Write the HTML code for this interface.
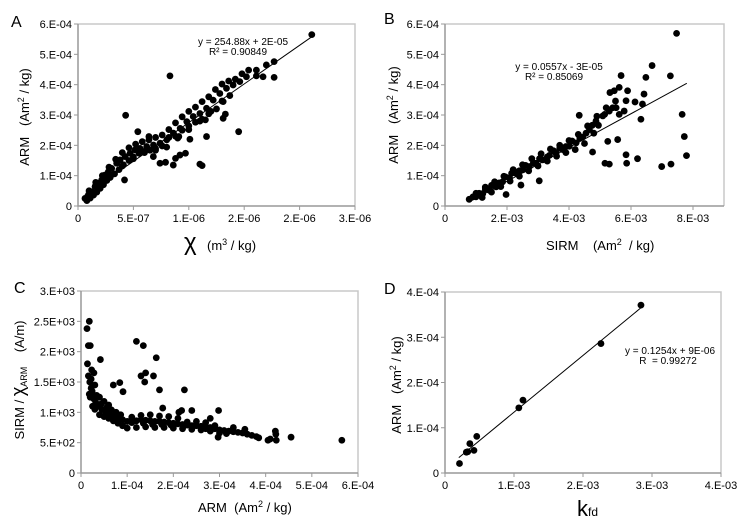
<!DOCTYPE html>
<html><head><meta charset="utf-8">
<style>
html,body{margin:0;padding:0;background:#fff;}
svg{display:block;font-family:"Liberation Sans",Arial,sans-serif;}
svg text{white-space:pre;}
</style></head>
<body>
<svg id="fig" width="746" height="527" viewBox="0 0 746 527" xmlns="http://www.w3.org/2000/svg"></svg>
<script>
// ---- Panel A: chi (1e-7 m3/kg) vs ARM (1e-5 Am2/kg)
const aX = [0.63,0.93,1.23,1.54,1.84,2.14,2.44,2.74,3.04,3.49,3.8,4.25,4.7,5.15,5.6,6.2,6.81,7.41,8.01,8.61,9.22,9.82,10.4,11.0,11.6,12.2,12.8,13.4,14.0,14.6,15.2,16.1,17.0,17.7,21.1,
 0.8,1.1,1.4,1.7,2.0,2.3,2.6,2.9,3.3,3.7,4.1,4.6,5.0,5.5,6.0,6.5,7.0,7.6,8.2,8.8,9.4,10.0,10.6,11.2,11.8,12.5,13.1,13.7,
 1.0,1.6,2.2,2.8,3.4,4.0,4.6,5.2,5.8,6.4,7.0,7.6,8.2,8.8,9.4,10.0,10.6,11.2,11.8,12.4,13.0,13.6,14.2,14.8,15.4,
 2.0,3.0,4.0,5.0,6.0,7.0,8.0,9.0,10.0,11.0,12.0,13.0,
 8.3,4.3,4.2,14.5,11.0,11.2,7.4,7.9,8.6,8.8,9.2,9.7,10.1,11.6,13.1,13.3,11.5,9.1,6.8,5.4,6.4,17.7,16.7,16.1];
const aY = [2.5,3.6,4.7,6.4,7.5,8.6,10.2,11.3,12.4,14.1,15.2,16.3,17.4,18.5,19.0,19.6,20.1,20.7,21.8,24.0,25.6,27.8,29.5,30.5,32.2,34.9,37.1,38.8,39.9,41.0,42.6,44.8,46.5,47.6,56.5,
 1.8,2.6,3.6,4.6,5.8,7.0,8.4,9.4,10.6,12.0,13.6,15.0,16.2,17.4,18.0,18.4,19.0,19.8,22.6,23.0,25.0,26.4,27.6,28.6,30.4,32.0,34.4,36.4,
 5.0,7.8,10.0,12.8,15.4,17.6,19.2,20.4,21.2,21.8,22.6,23.4,25.2,27.4,29.4,31.2,32.6,34.4,36.0,38.4,40.2,41.2,41.8,43.6,44.8,
 6.0,10.2,13.2,15.6,17.6,18.4,19.4,22.4,25.2,28.0,31.2,34.6,
 42.9,29.9,8.6,24.5,13.8,13.3,14.1,14.4,13.5,15.7,16.8,17.4,22.0,22.9,28.9,30.3,28.4,22.9,16.3,24.5,22.9,42.4,42.6,42.9];
// ---- Panel B: SIRM (1e-4) vs ARM (1e-5)
const bX = [7.8,10.0,12.2,14.3,16.5,18.6,20.8,22.9,25.1,27.2,29.4,31.5,33.7,35.8,38.0,40.1,42.3,44.4,46.6,48.7,50.9,53.0,55.2,54.6,56.2,56.8,
 9,11,13,15,17.5,19.5,21.5,24,26,28.5,30.5,33,35,37,39,41,43.5,45.5,47.5,49.5,51.5,
 10,13,16,19,22,25,28,31,34,37,40,43,46,49,52,55,
 12,15,18,21,24,27,30,33,36,39,42,45,48,
 74.7,66.8,72.7,64.8,64.2,63.7,58.4,61.3,63.2,76.5,77.2,77.9,72.9,69.9,62.1,58.4,58.6,52.5,53.0,51.6,55.7,47.6,30.4,24.5,19.7,43.3,53.2,54.1,56.2,57.8,58.9];
const bY = [2.2,3.0,4.1,5.2,6.3,8.0,9.3,10.8,11.9,13.0,14.1,15.2,16.7,17.4,18.6,19.7,20.8,22.7,25.2,28.0,29.7,31.3,32.4,38.0,39.1,43.0,
 3.0,4.2,5.6,6.8,7.6,9.6,10.8,11.6,13.4,14.2,15.6,16.2,18.2,19.0,19.6,21.4,22.4,24.0,26.6,26.6,30.2,
 4.2,6.2,8.0,9.8,12.0,13.6,15.6,17.2,18.8,20.0,21.6,23.6,26.4,29.6,32.4,34.6,
 2.8,4.6,6.4,8.2,9.8,11.6,13.2,14.8,16.4,17.6,18.6,20.6,24.0,
 56.9,46.3,42.9,42.4,36.9,33.6,34.7,34.3,28.6,30.2,22.9,16.6,13.8,13.0,15.6,16.9,14.1,21.3,13.8,14.1,21.9,17.8,8.3,6.9,3.8,29.9,37.4,32.4,30.2,31.3,38.0];
// ---- Panel C: ARM (1e-5) vs SIRM/chiARM (1e2 A/m)
const cX = [1.4,1.6,1.9,2.2,2.5,2.8,3.2,3.8,4.5,5.2,6,7,8,9,10,11,12,13,14,15,16,17,18,19,20,21,22,23,24,25,26,27,28,29,30,31,32,33,34,35,36,37,38,
 2,2.5,3,4,5,6,7,8,9,10,12,14,16,18,20,22,24,26,28,30,13,15,17,19,21,25,27,3,4,5,6,1.8,2.2,2.8,
 2.4,3.4,4.4,5.6,6.6,7.6,8.6,11,13.5,15.5,17.5,19.5,23,27,29,
 1.3,1.8,1.6,2,2.3,4.2,7,8.4,9.1,12,13.5,13,14,13.8,15.7,16.3,17,17.7,21.2,21.8,22.4,24,28,29.8,29.7,31.5,33,35.5,38.5,40.5,41,42.1,42.2,42.3,45.5,56.5];
const cY = [18,16,15,14,13,12.2,11.6,11,10.5,10.2,9.8,9.4,9.1,8.8,8.5,8.3,8.6,8.8,8.7,8.6,8.5,8.5,8.4,8.3,8.2,8.1,8.0,7.9,7.8,7.8,7.7,7.6,7.5,7.3,7.1,7.0,6.9,6.8,6.7,6.6,6.4,6.2,6.0,
 12.5,11,10.5,9.6,9.3,9,8.6,8.2,7.8,7.4,7.5,7.6,7.5,7.5,7.4,7.3,7.2,7.1,6.9,6.6,9.5,9.6,9.4,9.3,9.0,8.5,8.3,14.5,12.5,11.8,11.2,13,15.5,16.5,
 13.5,12.8,11.4,10.8,10.4,10.0,9.6,9.2,8.2,8.0,8.0,7.9,8.4,7.3,7.8,
 23.8,25,21,21,17,18.7,14.5,14.9,13.4,21.7,21,16,16.5,15,16,19,13.7,10.7,10,10.3,13.7,10.3,9,10.3,5.9,6.5,7.5,7.2,5.8,5.4,5.6,6.9,6.4,5.4,5.9,5.4];
// ---- Panel D: kfd (1e-3) vs ARM (1e-4)
const dX = [0.21,0.31,0.33,0.36,0.42,0.46,1.07,1.13,2.26,2.84];
const dY = [0.21,0.46,0.47,0.65,0.50,0.81,1.44,1.61,2.86,3.71];
// axis tick labels
const aXTicks = ["0","5.E-07","1.E-06","2.E-06","2.E-06","3.E-06"];
const aYTicks = ["0","1.E-04","2.E-04","3.E-04","4.E-04","5.E-04","6.E-04"];
const bXTicks = ["0","2.E-03","4.E-03","6.E-03","8.E-03"];
const bYTicks = ["0","1.E-04","2.E-04","3.E-04","4.E-04","5.E-04","6.E-04"];
const cXTicks = ["0","1.E-04","2.E-04","3.E-04","4.E-04","5.E-04","6.E-04"];
const cYTicks = ["0","5.E+02","1.E+03","1.5E+03","2.E+03","2.5E+03","3.E+03"];
const dXTicks = ["0","1.E-03","2.E-03","3.E-03","4.E-03"];
const dYTicks = ["0","1.E-04","2.E-04","3.E-04","4.E-04"];
// trend lines [slope, intercept, xStart, xEnd] in panel units
const aFit = [2.5488, 2.0, 0.6, 21.0];
const bFit = [0.557, -3.0, 8, 78];
const dFit = [1.254, 0.09, 0.2, 2.84];

const NS="http://www.w3.org/2000/svg";
const svg=document.getElementById('fig');
function mk(tag,attrs,parent){const e=document.createElementNS(NS,tag);for(const k in attrs)e.setAttribute(k,attrs[k]);(parent||svg).appendChild(e);return e;}
function txt(s,x,y,size,anchor,parent){const t=mk('text',{x:x,y:y,'font-size':size,'text-anchor':anchor||'start',fill:'#000'},parent);t.textContent=s;return t;}

function panel(id,L,R,T,B,xmax,ymax,xticks,xstep,yticks,ystep,xs,ys,fit,rad){
  const g=mk('g',{});
  
  
  const sx=v=>L+(v/xmax)*(R-L), sy=v=>B-(v/ymax)*(B-T);
  const frame=mk('path',{d:`M${L},${T}H${R}V${B}`,fill:'none',stroke:'#c8c8c8','stroke-width':1.5},g);
  
  
  const ax=mk('path',{d:`M${L},${T}V${B}H${R}`,fill:'none',stroke:'#999','stroke-width':1.5},g);
  
  
  xticks.forEach((s,i)=>{const x=sx(i*xstep);mk('line',{x1:x,x2:x,y1:B,y2:B+4,stroke:'#999','stroke-width':1},g);
    const t=txt(s,x,B+16,11,'middle',g);
    
    });
  yticks.forEach((s,i)=>{const y=sy(i*ystep);mk('line',{x1:L-4,x2:L,y1:y,y2:y,stroke:'#999','stroke-width':1},g);
    const t=txt(s,L-6,y+4,11,'end',g);
    
    });
  if(fit){const l=mk('line',{x1:sx(fit[2]),y1:sy(fit[0]*fit[2]+fit[1]),x2:sx(fit[3]),y2:sy(fit[0]*fit[3]+fit[1]),stroke:'#000','stroke-width':1},g);
    
    }
  xs.forEach((v,i)=>{const c=mk('circle',{cx:sx(v),cy:sy(ys[i]),r:rad,fill:'#000'},g);
    
    });
  return g;
}
panel('a',78,355,24,206,25,60,aXTicks,5,aYTicks,10,aX,aY,aFit,3.4);
panel('b',445,724,24,206,90,60,bXTicks,20,bYTicks,10,bX,bY,bFit,3.4);
panel('c',81,358,291,473,60,30,cXTicks,10,cYTicks,5,cX,cY,null,3.4);
panel('d',445,721,292,473,4,4,dXTicks,1,dYTicks,1,dX,dY,dFit,3.4);
</script>
<script>
(function(){
const NS="http://www.w3.org/2000/svg";const svg=document.getElementById('fig');
function add(html){const g=document.createElementNS(NS,'g');g.innerHTML=html;svg.appendChild(g);return g;}
add(`
<text x="11" y="27" font-size="16">A</text>
<text x="384" y="24" font-size="16">B</text>
<text x="14" y="293" font-size="16">C</text>
<text x="384" y="294" font-size="16">D</text>

<text x="243" y="45" font-size="10" text-anchor="middle">y = 254.88x + 2E-05</text>
<text x="238" y="55" font-size="10" text-anchor="middle">R² = 0.90849</text>
<text x="559" y="70" font-size="10" text-anchor="middle">y = 0.0557x - 3E-05</text>
<text x="554" y="80" font-size="10" text-anchor="middle">R² = 0.85069</text>
<text x="670" y="354" font-size="10" text-anchor="middle">y = 0.1254x + 9E-06</text>
<text x="668" y="364" font-size="10" text-anchor="middle">R  = 0.99272</text>

<text transform="translate(29,117) rotate(-90)" font-size="13" text-anchor="middle">ARM   (Am<tspan dy="-5" font-size="9">2</tspan><tspan dy="5"> / kg)</tspan></text>
<text x="184" y="250" font-size="24">χ</text>
<text x="207" y="250" font-size="13">(m<tspan dy="-5" font-size="9">3</tspan><tspan dy="5"> / kg)</tspan></text>

<text transform="translate(398,115) rotate(-90)" font-size="13" text-anchor="middle">ARM   (Am<tspan dy="-5" font-size="9">2</tspan><tspan dy="5"> / kg)</tspan></text>
<text x="546" y="250" font-size="13">SIRM    (Am<tspan dy="-5" font-size="9">2</tspan><tspan dy="5">  / kg)</tspan></text>

<text transform="translate(24,380) rotate(-90)" font-size="13" text-anchor="middle">SIRM / <tspan font-size="18">χ</tspan><tspan font-size="9" dy="3">ARM</tspan><tspan dy="-3">    (A/m)</tspan></text>
<text x="198" y="512" font-size="13">ARM  (Am<tspan dy="-5" font-size="9">2</tspan><tspan dy="5"> / kg)</tspan></text>

<text transform="translate(401,385) rotate(-90)" font-size="13" text-anchor="middle">ARM   (Am<tspan dy="-5" font-size="9">2</tspan><tspan dy="5"> / kg)</tspan></text>
<text x="577" y="516" font-size="22">k<tspan font-size="12">fd</tspan></text>
`);
})();
</script>
</body></html>
